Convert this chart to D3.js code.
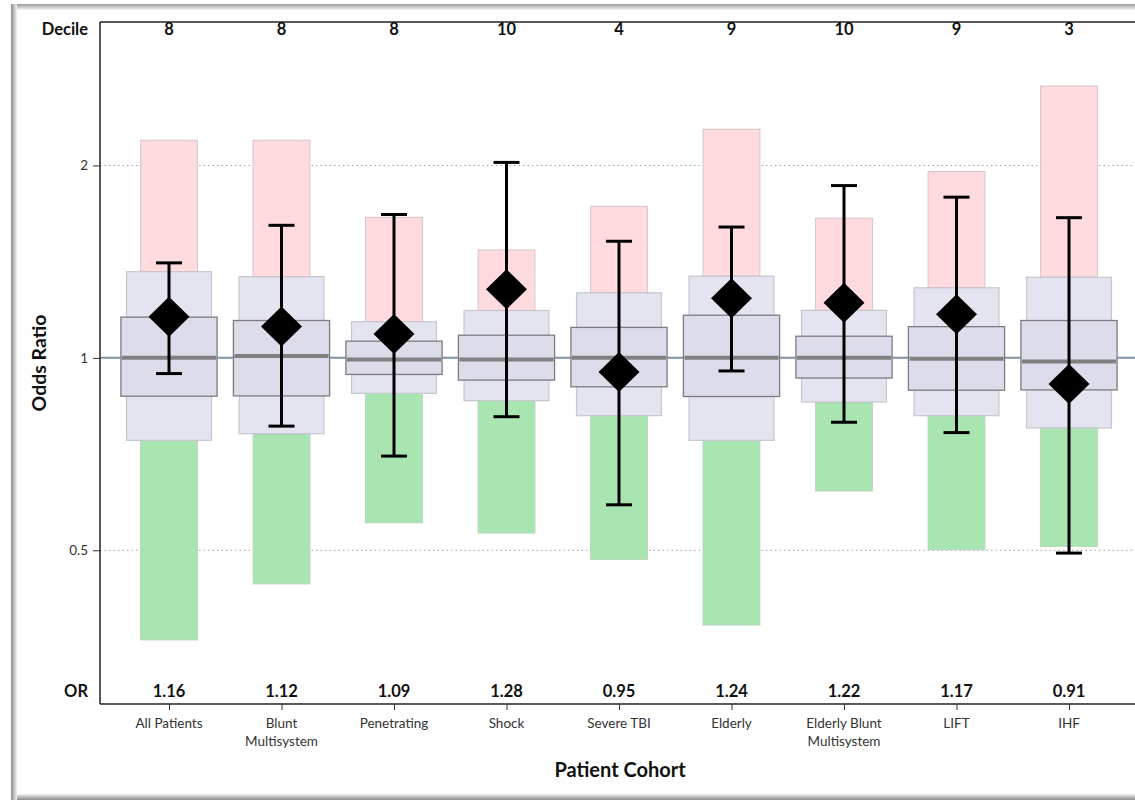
<!DOCTYPE html>
<html><head><meta charset="utf-8">
<script src="https://cdn.jsdelivr.net/npm/d3@7"></script>
<style>body{margin:0;background:#fff}svg{display:block}</style>
</head><body>
<svg id="chart" width="1135" height="800"></svg>
<script>
const categories = ["All Patients","Blunt Multisystem","Penetrating","Shock","Severe TBI","Elderly","Elderly Blunt Multisystem","LIFT","IHF"];
const labelLines = [["All Patients"],["Blunt","Multisystem"],["Penetrating"],["Shock"],["Severe TBI"],["Elderly"],["Elderly Blunt","Multisystem"],["LIFT"],["IHF"]];
const deciles = [8,8,8,10,4,9,10,9,3];
const orValues = [1.16,1.12,1.09,1.28,0.95,1.24,1.22,1.17,0.91];
const ciHigh = [1.408,1.612,1.676,2.022,1.522,1.602,1.860,1.784,1.657];
const ciLow = [0.945,0.782,0.702,0.809,0.589,0.954,0.793,0.764,0.495];
const upperTail = [2.19,2.19,1.659,1.475,1.726,2.279,1.654,1.956,2.663];
const outerHigh = [1.364,1.34,1.139,1.186,1.264,1.342,1.187,1.287,1.337];
const innerHigh = [1.158,1.144,1.062,1.085,1.116,1.166,1.081,1.119,1.144];
const medians = [1.0,1.007,0.994,0.994,1.0,1.0,1.0,0.997,0.987];
const innerLow = [0.871,0.872,0.942,0.923,0.901,0.870,0.930,0.890,0.891];
const outerLow = [0.743,0.761,0.880,0.857,0.812,0.743,0.853,0.812,0.777];
const lowerTail = [0.362,0.443,0.552,0.532,0.484,0.382,0.619,0.501,0.507];
const yTicks = [0.5,1,2];
const yDomain = [0.2874,3.353];

const svg = d3.select("#chart");
const font = "Lato, 'Open Sans', sans-serif";
const L = 100, R = 1140, T = 22, B = 704;

// frame shadow
const defs = svg.append("defs");
function grad(id,x1,y1,x2,y2,c1,c2){
  const g = defs.append("linearGradient").attr("id",id).attr("x1",x1).attr("y1",y1).attr("x2",x2).attr("y2",y2);
  g.append("stop").attr("offset","0%").attr("stop-color",c1);
  g.append("stop").attr("offset","100%").attr("stop-color",c2);
}
grad("gl","0","0","1","0","#8c8c8c","#f4f4f4");
grad("gt","0","0","0","1","#9a9a9a","#f6f6f6");
grad("gb","0","0","0","1","#f2f2f2","#8c8c8c");
svg.append("rect").attr("x",11).attr("y",4).attr("width",1124).attr("height",6).attr("fill","url(#gt)");
svg.append("rect").attr("x",11).attr("y",794).attr("width",1124).attr("height",6).attr("fill","url(#gb)");
svg.append("rect").attr("x",11).attr("y",4).attr("width",6).attr("height",796).attr("fill","url(#gl)");

const x = d3.scalePoint().domain(categories).range([169,1069]);
const step = x.step();
const y = d3.scaleLog().domain(yDomain).range([B,T]);

// grid lines
const g = svg.append("g");
g.selectAll("line.grid").data(yTicks.filter(d=>d!==1)).join("line")
  .attr("x1",L).attr("x2",R).attr("y1",d=>y(d)).attr("y2",d=>y(d))
  .attr("stroke","#a0a0a0").attr("stroke-width",1).attr("stroke-dasharray","1.5,3");
g.append("line").attr("x1",L).attr("x2",R).attr("y1",y(1)).attr("y2",y(1))
  .attr("stroke","#7e92a6").attr("stroke-width",2);

const idx = d3.range(categories.length);
const barW = step*0.505, outW = step*0.755, inW = step*0.855;

g.selectAll("rect.up").data(idx).join("rect")
  .attr("x",i=>x(categories[i])-barW/2).attr("width",barW)
  .attr("y",i=>y(upperTail[i])).attr("height",i=>y(outerHigh[i])-y(upperTail[i]))
  .attr("fill","#ffdbe0").attr("stroke","#d6c4c8").attr("stroke-width",1);
g.selectAll("rect.lo").data(idx).join("rect")
  .attr("x",i=>x(categories[i])-barW/2).attr("width",barW)
  .attr("y",i=>y(outerLow[i])).attr("height",i=>y(lowerTail[i])-y(outerLow[i]))
  .attr("fill","#a9e5b1").attr("stroke","#b9d6bd").attr("stroke-width",1);
g.selectAll("rect.out").data(idx).join("rect")
  .attr("x",i=>x(categories[i])-outW/2).attr("width",outW)
  .attr("y",i=>y(outerHigh[i])).attr("height",i=>y(outerLow[i])-y(outerHigh[i]))
  .attr("fill","#e4e4f1").attr("stroke","#c6c6ce").attr("stroke-width",1.2);
g.selectAll("rect.in").data(idx).join("rect")
  .attr("x",i=>x(categories[i])-inW/2).attr("width",inW)
  .attr("y",i=>y(innerHigh[i])).attr("height",i=>y(innerLow[i])-y(innerHigh[i]))
  .attr("fill","#dcdcea").attr("stroke","#7c7c82").attr("stroke-width",1.3);
g.selectAll("line.med").data(idx).join("line")
  .attr("x1",i=>x(categories[i])-inW/2+1).attr("x2",i=>x(categories[i])+inW/2-1)
  .attr("y1",i=>y(medians[i])).attr("y2",i=>y(medians[i]))
  .attr("stroke","#808080").attr("stroke-width",4);

const capW = 26;
g.selectAll("line.ci").data(idx).join("line")
  .attr("x1",i=>x(categories[i])).attr("x2",i=>x(categories[i]))
  .attr("y1",i=>y(ciHigh[i])).attr("y2",i=>y(ciLow[i]))
  .attr("stroke","#000").attr("stroke-width",3);
g.selectAll("line.caph").data(idx).join("line")
  .attr("x1",i=>x(categories[i])-capW/2).attr("x2",i=>x(categories[i])+capW/2)
  .attr("y1",i=>y(ciHigh[i])).attr("y2",i=>y(ciHigh[i]))
  .attr("stroke","#000").attr("stroke-width",3);
g.selectAll("line.capl").data(idx).join("line")
  .attr("x1",i=>x(categories[i])-capW/2).attr("x2",i=>x(categories[i])+capW/2)
  .attr("y1",i=>y(ciLow[i])).attr("y2",i=>y(ciLow[i]))
  .attr("stroke","#000").attr("stroke-width",3);
g.selectAll("path.dia").data(idx).join("path")
  .attr("transform",i=>`translate(${x(categories[i])},${y(orValues[i])})`)
  .attr("d","M0,-20L20.5,0L0,20L-20.5,0Z").attr("fill","#000");

svg.append("line").attr("x1",L).attr("x2",L).attr("y1",T).attr("y2",B).attr("stroke","#222").attr("stroke-width",1.5);
svg.append("line").attr("x1",L).attr("x2",1135).attr("y1",T).attr("y2",T).attr("stroke","#222").attr("stroke-width",1.5);
svg.append("line").attr("x1",L).attr("x2",1135).attr("y1",B).attr("y2",B).attr("stroke","#222").attr("stroke-width",1.5);

const yAxis = svg.append("g").attr("transform",`translate(${L},0)`)
  .call(d3.axisLeft(y).tickValues(yTicks).tickFormat(d3.format("")).tickSize(7).tickPadding(5));
yAxis.select(".domain").remove();
yAxis.selectAll("line").attr("stroke","#333");
yAxis.selectAll("text").attr("font-family",font).attr("font-size",13.5).attr("fill","#333");

const xAxis = svg.append("g").attr("transform",`translate(0,${B})`)
  .call(d3.axisBottom(x).tickSize(6).tickFormat(""));
xAxis.select(".domain").remove();
xAxis.selectAll("line").attr("stroke","#333");
const lbl = svg.append("g");
idx.forEach(i=>{
  const t = lbl.append("text").attr("x",x(categories[i])).attr("y",728)
    .attr("text-anchor","middle").attr("font-family",font).attr("font-size",13.5).attr("fill","#333");
  labelLines[i].forEach((s,k)=>t.append("tspan").attr("x",x(categories[i])).attr("dy",k?18:0).text(s));
});

svg.selectAll("text.dec").data(idx).join("text")
  .attr("x",i=>x(categories[i])).attr("y",35).attr("text-anchor","middle")
  .attr("font-family",font).attr("font-weight","bold").attr("font-size",16.5).attr("fill","#111")
  .text(i=>deciles[i]);
svg.selectAll("text.orv").data(idx).join("text")
  .attr("x",i=>x(categories[i])).attr("y",697).attr("text-anchor","middle")
  .attr("font-family",font).attr("font-weight","bold").attr("font-size",16.5).attr("fill","#111")
  .text(i=>orValues[i].toFixed(2));
svg.append("text").attr("x",88).attr("y",35).attr("text-anchor","end")
  .attr("font-family",font).attr("font-weight","bold").attr("font-size",16.5).attr("fill","#111").text("Decile");
svg.append("text").attr("x",88).attr("y",697).attr("text-anchor","end")
  .attr("font-family",font).attr("font-weight","bold").attr("font-size",16.5).attr("fill","#111").text("OR");

svg.append("text").attr("x",(L+R)/2).attr("y",777).attr("text-anchor","middle")
  .attr("font-family",font).attr("font-weight","bold").attr("font-size",20).attr("fill","#111").text("Patient Cohort");
svg.append("text").attr("transform",`translate(46,${(T+B)/2}) rotate(-90)`).attr("text-anchor","middle")
  .attr("font-family",font).attr("font-weight","bold").attr("font-size",19.5).attr("fill","#111").text("Odds Ratio");
</script>
</body></html>
